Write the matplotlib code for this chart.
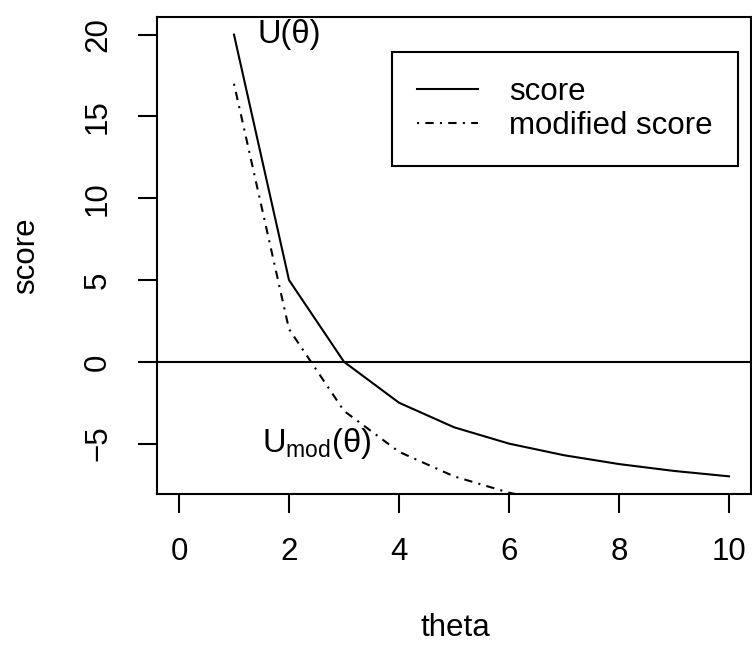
import matplotlib
matplotlib.use("Agg")
import matplotlib.pyplot as plt

plt.rcParams['font.family'] = ['Liberation Sans', 'DejaVu Sans']
plt.rcParams['mathtext.fontset'] = 'custom'
plt.rcParams['mathtext.rm'] = 'Liberation Sans'
plt.rcParams['mathtext.it'] = 'Liberation Sans'

# values
theta = [1, 2, 3, 4, 5, 6, 7, 8, 9, 10]
score = [20, 5, 0, -2.5, -4, -5, -5.71, -6.25, -6.67, -7]
modified = [17, 2, -3, -5.5, -7, -8, -8.71, -9.25, -9.67, -10]
xticks = [0, 2, 4, 6, 8, 10]
yticks = [-5, 0, 5, 10, 15, 20]

fs = 22.5
lw = 1.5

fig = plt.figure(figsize=(7.52, 6.45), dpi=100)
fig.subplots_adjust(left=157/752, right=751/752, top=1-17/645, bottom=1-494/645)
ax = fig.add_subplot(111)

ax.plot(theta, score, color='black', lw=lw, label='score')
ax.plot(theta, modified, color='black', lw=lw, linestyle=(0, (1, 3, 4, 3)),
        label='modified score')
ax.axhline(0, color='black', lw=lw)

ax.set_xlim(-0.4, 10.4)
ax.set_ylim(-7 - 1.08, 20 + 1.08)
ax.set_xticks(xticks)
ax.set_yticks(yticks)
ax.set_yticklabels([str(t) if t >= 0 else '\u2212' + str(-t) for t in yticks],
                   rotation=90, va='center')
ax.tick_params(direction='out', length=13.7, width=lw, labelsize=fs, pad=17)
ax.tick_params(axis='y', pad=18)
for s in ax.spines.values():
    s.set_linewidth(lw)

ax.set_xlabel('theta', fontsize=fs, va='center')
ax.xaxis.set_label_coords(0.502, -0.281)
ax.set_ylabel('score', fontsize=fs, va='center')
ax.yaxis.set_label_coords((26 - 157) / 594, 0.5)

ax.text(2, 20, 'U(\u03b8)', fontsize=fs + 1, ha='center', va='center')
ax.text(2.5, -5, '$\\mathrm{U_{mod}(\u03b8)}$', fontsize=fs + 1, ha='center', va='center')

leg = ax.legend(loc='upper right', bbox_to_anchor=(0.978, 0.927), fontsize=fs,
                frameon=True, fancybox=False, framealpha=1, edgecolor='black',
                handlelength=1.95, handletextpad=1.0, borderpad=0.8,
                labelspacing=0.12, borderaxespad=0)
leg.get_frame().set_linewidth(lw)

fig.savefig('out.png', dpi=100)
